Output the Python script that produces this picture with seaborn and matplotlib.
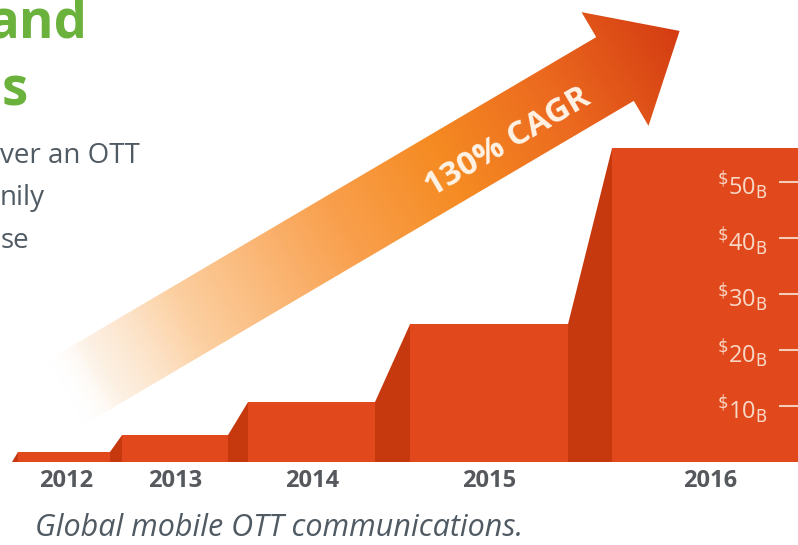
import numpy as np
import pandas as pd
import matplotlib
matplotlib.use('Agg')
import matplotlib.pyplot as plt
from matplotlib.colors import LinearSegmentedColormap
from matplotlib.patches import Polygon
import seaborn as sns

# data
years = ['2012', '2013', '2014', '2015', '2016']
revenue = [1.8, 4.8, 10.7, 24.6, 56.0]   # $B
tick_values = [10, 20, 30, 40, 50]
tick_labels = [r'${}^{\$}$' + str(v) + r'$_{\mathrm{B}}$' for v in tick_values]
cagr_label = '130% CAGR'
caption = 'Global mobile OTT communications.'
headline = ['and', 's']
body = ['ver an OTT', 'nily', 'se']

# layout, in pixels of the 798x545 canvas
W, H = 798, 545
base_px = 462
px_per_b = 5.6
front_left = [18, 122, 248, 410, 612]
front_right = [110, 228, 375, 568, 830]
label_x = [66, 175, 312, 489, 710]

FRONT = '#E1481B'
SIDE = '#C6380D'
GREEN = '#6AB23C'
GRAY = '#505A63'

sns.set_theme(style='white')
plt.rcParams['font.family'] = ['Open Sans', 'DejaVu Sans']

fig = plt.figure(figsize=(W / 100, H / 100), dpi=100)
bg = fig.add_axes([0, 0, 1, 1], zorder=0)
bg.set_xlim(0, W)
bg.set_ylim(H, 0)
bg.axis('off')

# gradient arrow
ang_deg = 30.5
ang = np.deg2rad(ang_deg)
u = np.array([np.cos(ang), -np.sin(ang)])
n = np.array([np.sin(ang), np.cos(ang)])
C = np.array([615., 69.])
tip = C + 75 * u
S = C - 640 * u
h, hh = 37, 66
verts = [S - n * h, C - n * h, C - n * hh, tip, C + n * hh, C + n * h, S + n * h]
arrow = Polygon(verts, closed=True, facecolor='none', edgecolor='none')
bg.add_patch(arrow)
X, Y = np.meshgrid(np.arange(W) + 0.5, np.arange(H) + 0.5)
t = ((X - S[0]) * u[0] + (Y - S[1]) * u[1]) / np.linalg.norm(tip - S)
t = np.clip(t, 0, 1)
cmap = LinearSegmentedColormap.from_list('arrow', [
  (0.0, (1, 1, 1, 0)),
  (0.06, (0.99, 0.93, 0.86, 0.7)),
  (0.2, '#FCD0A2'),
  (0.45, '#F9A04E'),
  (0.62, '#F58B22'),
  (0.8, '#EC6A1F'),
  (1.0, '#D43C12')])
img = bg.imshow(cmap(t), extent=(0, W, H, 0), aspect='auto', zorder=1)
img.set_clip_path(arrow)
bg.text(508, 143, cagr_label, rotation=ang_deg, rotation_mode='anchor', ha='center', va='center',
        fontsize=24, fontweight='bold', color='#FFF3E6', zorder=3)

# cropped headline and body copy
bg.text(88, 38, headline[0], ha='right', va='baseline', fontsize=38, fontweight='bold', color=GREEN)
bg.text(28, 105, headline[1], ha='right', va='baseline', fontsize=38, fontweight='bold', color=GREEN)
for txt, x, y in zip(body, [140, 45, 29], [163, 205, 248]):
  bg.text(x, y, txt, ha='right', va='baseline', fontsize=20, color=GRAY)
bg.text(35, 536, caption, ha='left', va='baseline', fontsize=22, style='italic', color=GRAY)

# stepped bars
ax = fig.add_axes([0, (H - base_px) / H, 1, base_px / H], zorder=1)
ax.patch.set_alpha(0)
ax.set_axisbelow(False)
df = pd.DataFrame({'year': years, 'revenue': revenue})
sns.barplot(data=df, x='year', y='revenue', color=FRONT, saturation=1, errorbar=None, ax=ax)
for bar, l, r in zip(ax.patches, front_left, front_right):
  bar.set_x(l)
  bar.set_width(r - l)
  bar.set_linewidth(0)

prev_r, prev_v = front_left[0] - 6, 0
for l, r, v in zip(front_left, front_right, revenue):
  ax.fill([prev_r, prev_r, l, l], [0, prev_v, v, 0], color=SIDE, lw=0, zorder=0.9)
  prev_r, prev_v = r, v

ax.set_xlim(0, W)
ax.set_ylim(0, base_px / px_per_b)
ax.set_xlabel('')
ax.set_ylabel('')
for sp in ax.spines.values():
  sp.set_visible(False)

ax.set_xticks(label_x, labels=years)
ax.tick_params(axis='x', length=0, pad=5, labelsize=17, labelcolor='#55585C')
for lbl in ax.get_xticklabels():
  lbl.set_fontweight('bold')

ax.yaxis.tick_right()
ax.set_yticks(tick_values, labels=tick_labels)
ax.tick_params(axis='y', direction='in', length=14, width=1.5, color='#F4CDB8',
               labelcolor='#F8D8C6', labelsize=17, pad=-22)
for lbl in ax.get_yticklabels():
  lbl.set_ha('right')

fig.savefig('out.png', dpi=100)
